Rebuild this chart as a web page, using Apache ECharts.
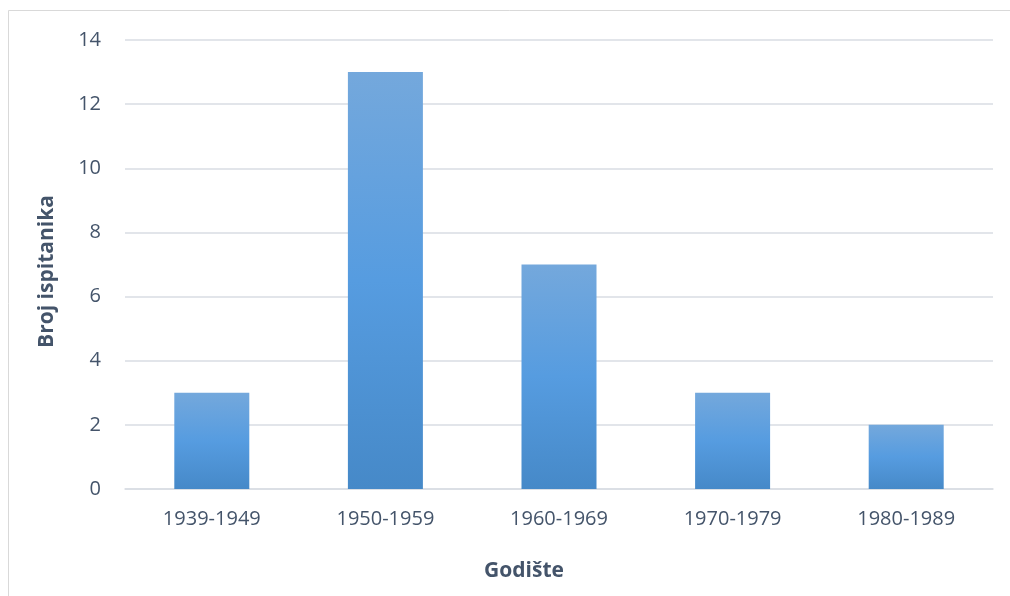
<!DOCTYPE html>
<html>
<head>
<meta charset="utf-8">
<script src="https://cdn.jsdelivr.net/npm/echarts@6/dist/echarts.min.js"></script>
<style>
  html, body { margin: 0; padding: 0; background: #fff; }
  #chart { width: 1010px; height: 596px; }
</style>
</head>
<body>
<div id="chart"></div>
<script>
// data
var categories = ['1939-1949', '1950-1959', '1960-1969', '1970-1979', '1980-1989']
var counts = [3, 13, 7, 3, 2]
var yTicks = { min: 0, max: 14, interval: 2 }

var labelColor = '#44546a'
var font = '"Open Sans", sans-serif'

var myChart = echarts.init(document.getElementById('chart'))

var option = {
  animation: false,
  backgroundColor: '#fff',
  grid: { left: 125, right: 17, top: 40, bottom: 107 },
  graphic: [{
    type: 'rect',
    shape: { x: 8.5, y: 10.5, width: 1020, height: 620 },
    style: { fill: 'none', stroke: '#d9d9d9', lineWidth: 1 },
    silent: true
  }],
  xAxis: {
    type: 'category',
    data: categories,
    name: 'Godište',
    nameLocation: 'middle',
    nameGap: 72,
    nameTextStyle: { color: labelColor, fontFamily: font, fontSize: 21, fontWeight: 'bold', padding: [0, 70, 0, 0] },
    axisLine: { show: true, lineStyle: { color: '#d9dde3', width: 1.5 } },
    axisTick: { show: false },
    axisLabel: { color: labelColor, fontFamily: font, fontSize: 20, margin: 20 }
  },
  yAxis: {
    type: 'value',
    min: yTicks.min,
    max: yTicks.max,
    interval: yTicks.interval,
    name: 'Broj ispitanika',
    nameLocation: 'middle',
    nameGap: 67,
    nameTextStyle: { color: labelColor, fontFamily: font, fontSize: 21, fontWeight: 'bold', padding: [0, 14, 0, 0] },
    axisLine: { show: false },
    axisTick: { show: false },
    axisLabel: { color: labelColor, fontFamily: font, fontSize: 20, margin: 24 },
    splitLine: { lineStyle: { color: '#d9dde3', width: 1.5 } }
  },
  series: [{
    type: 'bar',
    data: counts,
    barWidth: 75,
    itemStyle: {
      color: new echarts.graphic.LinearGradient(0, 0, 0, 1, [
        { offset: 0, color: '#74a8dc' },
        { offset: 0.5, color: '#569ce0' },
        { offset: 1, color: '#4689c8' }
      ])
    }
  }]
}

myChart.setOption(option)
</script>
</body>
</html>
